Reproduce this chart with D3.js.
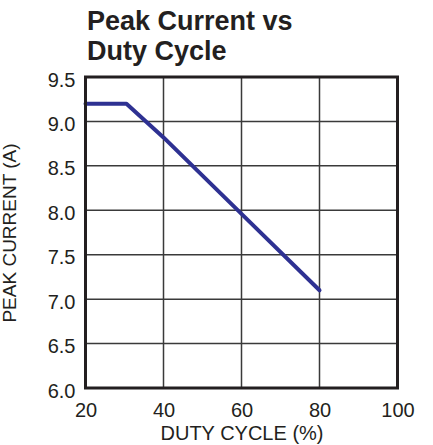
<!DOCTYPE html>
<html>
<head>
<meta charset="utf-8">
<script src="https://cdn.jsdelivr.net/npm/d3@7"></script>
<style>
  html, body { margin: 0; padding: 0; background: #fff; }
  svg { display: block; font-family: "Liberation Sans", Arial, sans-serif; }
</style>
</head>
<body>
<svg id="chart" width="433" height="445"></svg>
<script>
const titleLines = ["Peak Current vs", "Duty Cycle"];
const xTicks = [20, 40, 60, 80, 100];
const yTicks = [6.0, 6.5, 7.0, 7.5, 8.0, 8.5, 9.0, 9.5];
const dutyCycle = [20, 30.5, 40, 60, 80];
const peakCurrent = [9.2, 9.2, 8.82, 7.96, 7.1];
const xLabel = "DUTY CYCLE (%)";
const yLabel = "PEAK CURRENT (A)";

const svg = d3.select("#chart");
const L = 85.5, R = 397.5, T = 77, B = 388;
const x = d3.scaleLinear().domain([20, 100]).range([L, R]);
const y = d3.scaleLinear().domain([6.0, 9.5]).range([B, T]);

// title
svg.append("g").selectAll("text").data(titleLines).join("text")
  .attr("x", 87).attr("y", (d, i) => 30 + i * 30)
  .attr("font-size", 27).attr("font-weight", "bold").attr("fill", "#231f20")
  .text(d => d);

// grid
const grid = svg.append("g");
grid.selectAll("line.v").data(xTicks.slice(1, -1)).join("line")
  .attr("x1", d => x(d)).attr("x2", d => x(d)).attr("y1", T).attr("y2", B)
  .attr("stroke", "#3a3a3a").attr("stroke-width", 1.5);
grid.selectAll("line.h").data(yTicks.slice(1, -1)).join("line")
  .attr("y1", d => y(d)).attr("y2", d => y(d)).attr("x1", L).attr("x2", R)
  .attr("stroke", "#3a3a3a").attr("stroke-width", 1.5);

// data line
const line = d3.line().x(d => x(d[0])).y(d => y(d[1]));
svg.append("path")
  .datum(dutyCycle.map((d, i) => [d, peakCurrent[i]]))
  .attr("d", line).attr("fill", "none")
  .attr("stroke", "#2e3192").attr("stroke-width", 4)
  .attr("stroke-linejoin", "round").attr("stroke-linecap", "round");

// frame
svg.append("rect").attr("x", L).attr("y", T).attr("width", R - L).attr("height", B - T)
  .attr("fill", "none").attr("stroke", "#231f20").attr("stroke-width", 3);

// axes (labels only)
const xAxis = d3.axisBottom(x).tickValues(xTicks).tickSize(0).tickPadding(0).tickFormat(d3.format("d"));
const gx = svg.append("g").attr("transform", `translate(0,${B})`).call(xAxis);
gx.select(".domain").remove();
gx.selectAll("text").attr("font-size", 20).attr("fill", "#231f20")
  .attr("font-family", "Liberation Sans, Arial, sans-serif")
  .attr("dy", null).attr("y", 29);

const yAxis = d3.axisLeft(y).tickValues(yTicks).tickSize(0).tickPadding(10).tickFormat(d3.format(".1f"));
const gy = svg.append("g").attr("transform", `translate(${L},0)`).call(yAxis);
gy.select(".domain").remove();
gy.selectAll("text").attr("font-size", 20).attr("fill", "#231f20")
  .attr("font-family", "Liberation Sans, Arial, sans-serif")
  .attr("dy", "0.45em");

svg.append("text").attr("x", 242).attr("y", 440).attr("text-anchor", "middle")
  .attr("font-size", 20).attr("fill", "#231f20").text(xLabel);

svg.append("text").attr("transform", "translate(16,233) rotate(-90)").attr("text-anchor", "middle")
  .attr("font-size", 19).attr("fill", "#231f20").text(yLabel);
</script>
</body>
</html>
